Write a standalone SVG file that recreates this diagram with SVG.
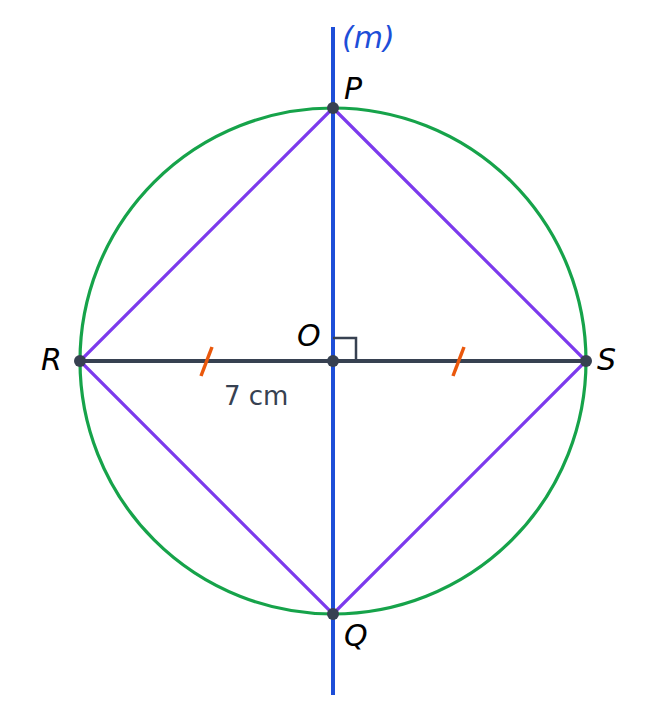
<svg xmlns="http://www.w3.org/2000/svg" width="665" height="723" viewBox="0 0 665 723">
<style>
.lbl{font-family:"DejaVu Sans",sans-serif;font-style:oblique;font-size:30px;fill:#000}
.dot{fill:#374151}
</style>
<rect width="665" height="723" fill="#fff"/>
<g id="connectors" fill="none" stroke-linecap="butt">
<circle id="circle" cx="333" cy="361" r="253" stroke="#16a34a" stroke-width="3.2"/>
<polygon id="rhombus" points="333,108 586,361 333,614 80,361" stroke="#7c3aed" stroke-width="3.2" stroke-linejoin="miter"/>
<line id="RS" x1="80" y1="361" x2="586" y2="361" stroke="#374151" stroke-width="4"/>
<line id="m" x1="333" y1="27" x2="333" y2="695" stroke="#1d4ed8" stroke-width="4"/>
<polyline id="rightangle" points="333,338 356,338 356,361" stroke="#374151" stroke-width="2.5"/>
<line x1="201" y1="376" x2="212" y2="347" stroke="#ea580c" stroke-width="3.5"/>
<line x1="453" y1="376" x2="464" y2="347" stroke="#ea580c" stroke-width="3.5"/>
</g>
<g id="P"><circle class="dot" cx="333" cy="108" r="6"/><text class="lbl" x="344" y="99">P</text></g>
<g id="Q"><circle class="dot" cx="333" cy="614" r="6"/><text class="lbl" x="344" y="646">Q</text></g>
<g id="R"><circle class="dot" cx="80" cy="361" r="6"/><text class="lbl" x="41" y="370">R</text></g>
<g id="S"><circle class="dot" cx="586" cy="361" r="6"/><text class="lbl" x="597" y="370">S</text></g>
<g id="O"><circle class="dot" cx="333" cy="361" r="6"/><text class="lbl" x="297" y="346">O</text></g>
<g id="mlabel"><text class="lbl" x="342" y="48" style="fill:#1d4ed8">(m)</text></g>
<g id="length"><text x="224" y="405" style="font-family:'DejaVu Sans',sans-serif;font-size:26px;fill:#374151">7 cm</text></g>
</svg>
